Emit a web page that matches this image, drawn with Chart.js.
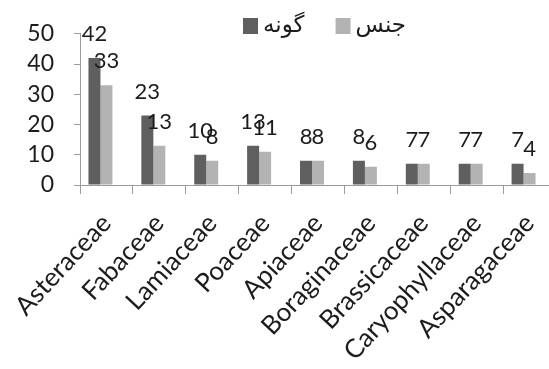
<!DOCTYPE html>
<html>
<head>
<meta charset="utf-8">
<script src="https://cdn.jsdelivr.net/npm/chart.js@4/dist/chart.umd.min.js"></script>
<style>
  html, body { margin: 0; padding: 0; background: #fff; overflow: hidden; }
  #wrap { width: 560px; height: 369px; position: relative; }
</style>
</head>
<body>
<div id="wrap"><canvas id="c"></canvas></div>
<script>
// Plant families and their counts
const families = ['Asteraceae', 'Fabaceae', 'Lamiaceae', 'Poaceae', 'Apiaceae',
                  'Boraginaceae', 'Brassicaceae', 'Caryophyllaceae', 'Asparagaceae'];
const speciesCounts = [42, 23, 10, 13, 8, 8, 7, 7, 7];
const genusCounts   = [33, 13, 8, 11, 8, 6, 7, 7, 4];
const seriesNames   = ['گونه', 'جنس'];
const seriesColors  = ['#5f5f5f', '#b3b3b3'];
const yTickValues   = [0, 10, 20, 30, 40, 50];

const textColor = '#1c1c1c';
const axisColor = '#9a9a9a';

// Value labels above each bar
const valueLabels = {
  id: 'valueLabels',
  afterDatasetsDraw(chart) {
    const ctx = chart.ctx;
    ctx.save();
    ctx.font = '22px Lato';
    ctx.fillStyle = textColor;
    ctx.textAlign = 'center';
    ctx.textBaseline = 'bottom';
    [0, 1].forEach(di => {
      const meta = chart.getDatasetMeta(di);
      meta.data.forEach((bar, i) => {
        const v = chart.data.datasets[di].data[i];
        ctx.fillText(String(v), bar.x, bar.y - 13);
      });
    });
    ctx.restore();
  }
};

// Legend drawn across the top, box then name for each series
const topLegend = {
  id: 'topLegend',
  afterDraw(chart) {
    const ctx = chart.ctx;
    ctx.save();
    ctx.font = '23px "DejaVu Sans"';
    ctx.textBaseline = 'middle';
    ctx.textAlign = 'left';
    let x = 243;
    const y = 26;
    seriesNames.forEach((name, i) => {
      ctx.fillStyle = seriesColors[i];
      ctx.fillRect(x, y - 8, 15, 16);
      x += 15 + 5;
      ctx.fillStyle = textColor;
      ctx.fillText(name, x, y);
      x += ctx.measureText(name).width + 31;
    });
    ctx.restore();
  }
};

new Chart(document.getElementById('c'), {
  type: 'bar',
  data: {
    labels: families,
    datasets: [
      { label: seriesNames[0], data: speciesCounts, backgroundColor: seriesColors[0] },
      { label: seriesNames[1], data: genusCounts, backgroundColor: seriesColors[1] },
      // empty slot that keeps each bar pair slightly left of the category centre
      { label: '', data: families.map(() => null), backgroundColor: 'rgba(0,0,0,0)' }
    ]
  },
  options: {
    responsive: true,
    maintainAspectRatio: false,
    animation: false,
    devicePixelRatio: 1,
    layout: { padding: { top: 25, right: 4, left: 0, bottom: 0 } },
    datasets: { bar: { barPercentage: 1, categoryPercentage: 0.68 } },
    plugins: {
      legend: { display: false },
      tooltip: { enabled: false }
    },
    scales: {
      x: {
        grid: { display: true, drawOnChartArea: false, tickLength: 9, color: axisColor, offset: true },
        border: { display: true, color: axisColor },
        ticks: {
          color: textColor,
          font: { family: 'Lato', size: 26 },
          minRotation: 47,
          maxRotation: 47,
          padding: 14,
          autoSkip: false
        },
        afterFit(scale) {
          scale.height = 184;
          scale.paddingLeft = 0;
          scale.paddingRight = 0;
        }
      },
      y: {
        min: 0,
        max: 50,
        afterBuildTicks(scale) { scale.ticks = yTickValues.map(v => ({ value: v })); },
        grid: { display: true, drawOnChartArea: false, tickLength: 6, color: axisColor },
        border: { display: true, color: axisColor },
        ticks: {
          color: textColor,
          font: { family: 'Lato', size: 23 },
          padding: 20,
          autoSkip: false
        },
        afterFit(scale) { scale.width = 80; }
      }
    }
  },
  plugins: [valueLabels, topLegend]
});
</script>
</body>
</html>
